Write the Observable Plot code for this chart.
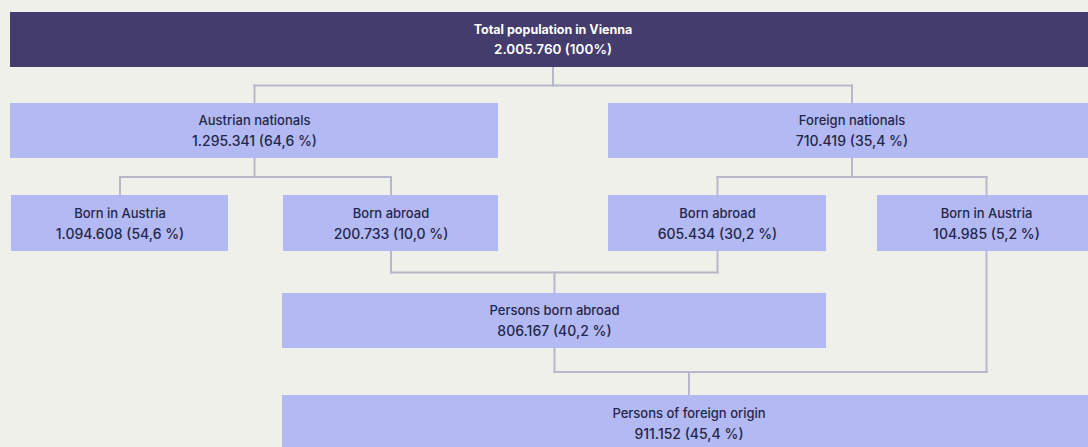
<!DOCTYPE html>
<html>
<head>
<meta charset="utf-8">
<script src="https://cdn.jsdelivr.net/npm/d3@7"></script>
<script src="https://cdn.jsdelivr.net/npm/@observablehq/plot@0.6"></script>
<style>
  html, body { margin: 0; padding: 0; background: #f0f0ea; overflow: hidden; }
  #chart svg { display: block; }
</style>
</head>
<body>
<div id="chart"></div>
<script>
// ---- Data ----
const nodeIds = ["total", "austrian", "foreign", "atBornAT", "atBornAbroad", "fnBornAbroad", "fnBornAT", "bornAbroad", "foreignOrigin"];
const nodeLabels = ["Total population in Vienna", "Austrian nationals", "Foreign nationals", "Born in Austria", "Born abroad", "Born abroad", "Born in Austria", "Persons born abroad", "Persons of foreign origin"];
const nodeValues = [2005760, 1295341, 710419, 1094608, 200733, 605434, 104985, 806167, 911152];
const nodeShares = [100, 64.6, 35.4, 54.6, 10.0, 30.2, 5.2, 40.2, 45.4];

// tree structure: splits (parent -> children) and merges (sources -> target)
const splits = [
  ["total", ["austrian", "foreign"]],
  ["austrian", ["atBornAT", "atBornAbroad"]],
  ["foreign", ["fnBornAbroad", "fnBornAT"]]
];
const merges = [
  [["atBornAbroad", "fnBornAbroad"], "bornAbroad"],
  [["bornAbroad", "fnBornAT"], "foreignOrigin"]
];

// ---- Layout (box extents in page units: x1, x2, y1, y2) ----
const layout = {
  total:         [10, 1095, 12, 67],
  austrian:      [10, 498, 103, 158],
  foreign:       [608, 1095, 103, 158],
  atBornAT:      [11, 228, 195, 251],
  atBornAbroad:  [283, 498, 195, 251],
  fnBornAbroad:  [608, 826, 195, 251],
  fnBornAT:      [877, 1095, 195, 251],
  bornAbroad:    [282, 826, 293, 348],
  foreignOrigin: [282, 1095, 395, 452]
};

// ---- Build tables ----
const loc = d3.formatLocale({decimal: ",", thousands: ".", grouping: [3], currency: ["", ""]});
const fmtN = loc.format(",d");
const fmtP = loc.format(".1f");
const nodes = nodeIds.map((id, i) => {
  const [x1, x2, y1, y2] = layout[id];
  const share = nodeShares[i] === 100 ? "(100%)" : `(${fmtP(nodeShares[i])} %)`;
  return {
    id, label: nodeLabels[i], value: `${fmtN(nodeValues[i])} ${share}`,
    x1, x2, y1, y2, cx: (x1 + x2) / 2, cy: (y1 + y2) / 2, dark: i === 0
  };
});
const byId = Object.fromEntries(nodes.map(d => [d.id, d]));
const darkNodes = nodes.filter(d => d.dark);
const lightNodes = nodes.filter(d => !d.dark);

const segs = [];
for (const [p, kids] of splits) {
  const P = byId[p], K = kids.map(k => byId[k]);
  const mid = (P.y2 + d3.min(K, k => k.y1)) / 2;
  segs.push({x1: P.cx, y1: P.y2, x2: P.cx, y2: mid});
  segs.push({x1: d3.min(K, k => k.cx), y1: mid, x2: d3.max(K, k => k.cx), y2: mid});
  for (const k of K) segs.push({x1: k.cx, y1: mid, x2: k.cx, y2: k.y1});
}
for (const [srcs, t] of merges) {
  const S = srcs.map(s => byId[s]), T = byId[t];
  const mid = (d3.max(S, s => s.y2) + T.y1) / 2;
  for (const s of S) segs.push({x1: s.cx, y1: s.y2, x2: s.cx, y2: mid});
  segs.push({x1: d3.min(S, s => s.cx), y1: mid, x2: d3.max(S, s => s.cx), y2: mid});
  segs.push({x1: T.cx, y1: mid, x2: T.cx, y2: T.y1});
}

const W = 1088, H = 447;
const chart = Plot.plot({
  width: W, height: H,
  margin: 0,
  style: {background: "#f0f0ea", fontFamily: "Inter, Lato, 'DejaVu Sans', sans-serif"},
  x: {domain: [0, W], range: [0, W], axis: null},
  y: {domain: [0, H], range: [0, H], axis: null},
  marks: [
    Plot.link(segs, {x1: "x1", y1: "y1", x2: "x2", y2: "y2", stroke: "#b6b7c8", strokeWidth: 2, strokeLinecap: "square"}),
    Plot.rect(darkNodes, {x1: "x1", x2: "x2", y1: "y1", y2: "y2", fill: "#453c6e"}),
    Plot.rect(lightNodes, {x1: "x1", x2: "x2", y1: "y1", y2: "y2", fill: "#b3b9f2"}),
    Plot.text(darkNodes, {x: "cx", y: "cy", text: "label", fill: "#ffffff", fontSize: 12.5, fontWeight: "bold", dy: -10}),
    Plot.text(darkNodes, {x: "cx", y: "cy", text: "value", fill: "#ffffff", fontSize: 13.5, fontWeight: 600, dy: 10}),
    Plot.text(lightNodes, {x: "cx", y: "cy", text: "label", fill: "#24274c", fontSize: 13, fontWeight: 500, dy: -10}),
    Plot.text(lightNodes, {x: "cx", y: "cy", text: "value", fill: "#24274c", fontSize: 14, fontWeight: 500, dy: 11})
  ]
});
document.getElementById("chart").appendChild(chart);
</script>
</body>
</html>
